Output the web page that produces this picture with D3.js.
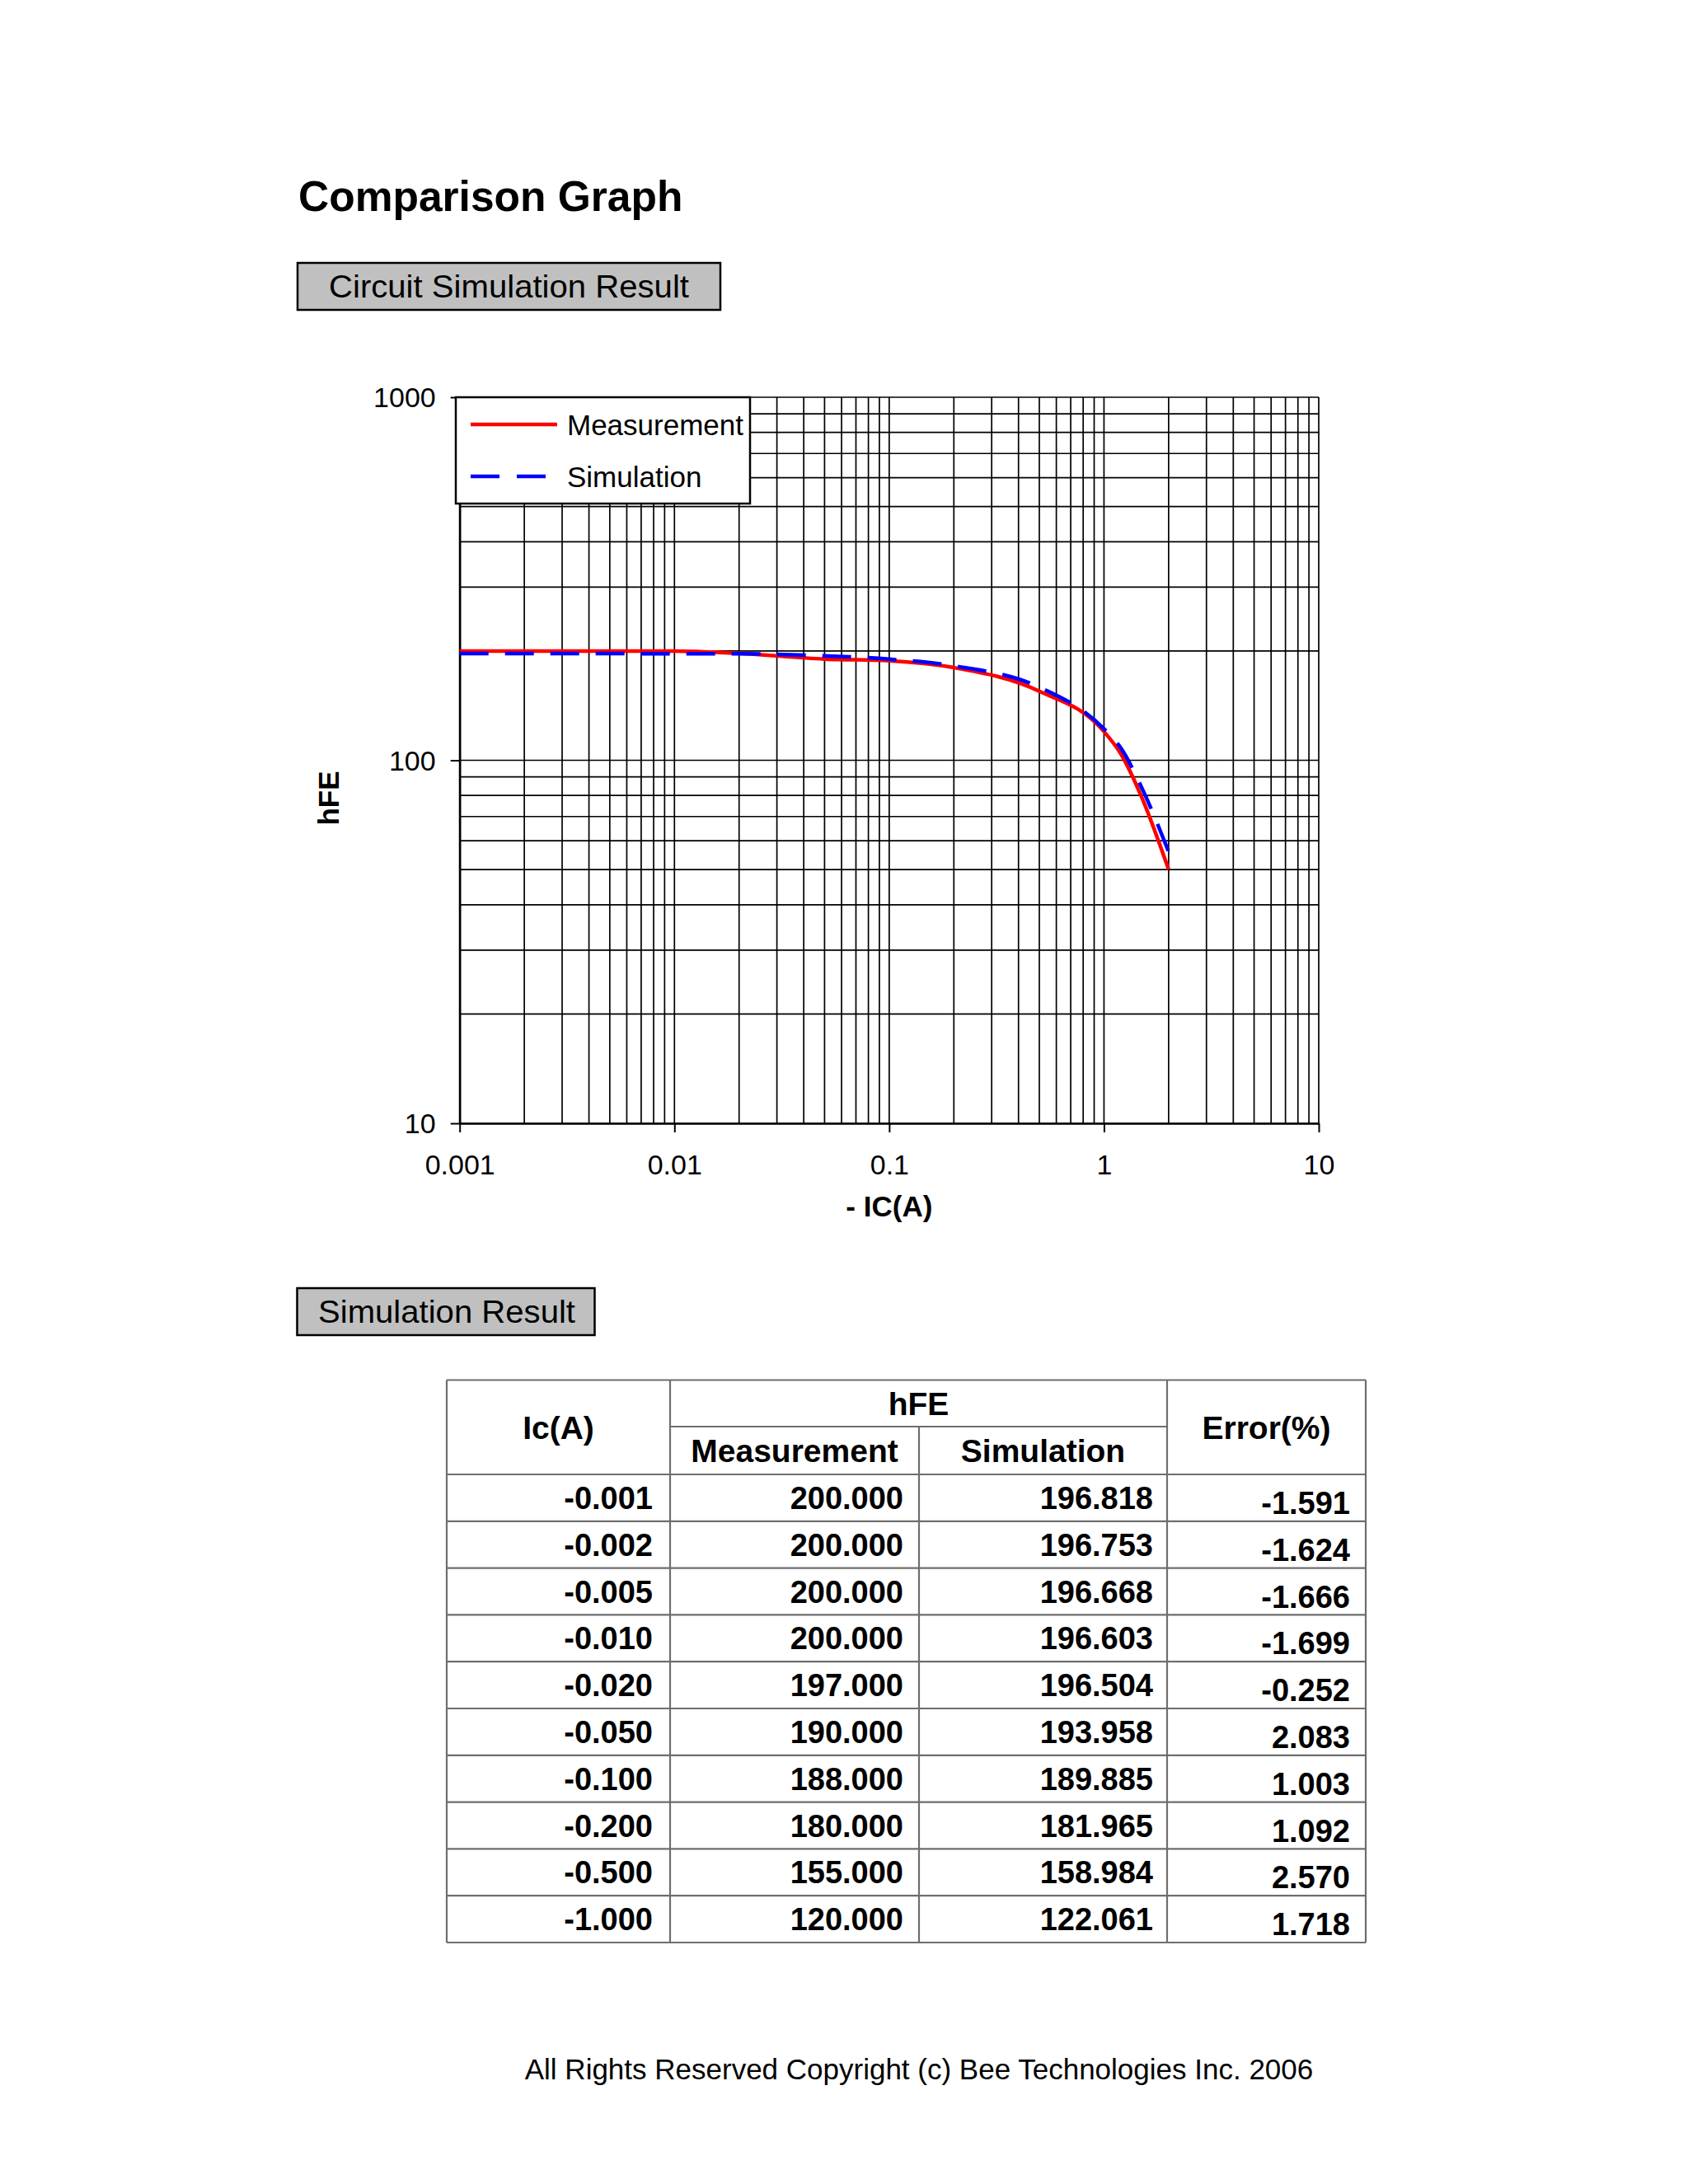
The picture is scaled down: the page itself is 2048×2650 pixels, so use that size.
<!DOCTYPE html>
<html>
<head>
<meta charset="utf-8">
<script src="https://cdn.jsdelivr.net/npm/d3@7"></script>
<style>
  html, body { margin: 0; padding: 0; background: #fff; }
  svg { display: block; }
  text { font-family: "Liberation Sans", Arial, sans-serif; }
</style>
</head>
<body>
<svg id="chart" width="2048" height="2650"></svg>
<script>
// ---------------- DATA ----------------
const icValues = [0.001, 0.002, 0.005, 0.01, 0.02, 0.05, 0.1, 0.2, 0.5, 1.0];
const icLabels = ["-0.001", "-0.002", "-0.005", "-0.010", "-0.020", "-0.050", "-0.100", "-0.200", "-0.500", "-1.000"];
const hfeMeasurement = [200, 200, 200, 200, 197, 190, 188, 180, 155, 120];
const hfeSimulation = [196.818, 196.753, 196.668, 196.603, 196.504, 193.958, 189.885, 181.965, 158.984, 122.061];
const errorPercent = [-1.591, -1.624, -1.666, -1.699, -0.252, 2.083, 1.003, 1.092, 2.570, 1.718];
// curve continuation beyond the table
const icExtra = [1.2, 1.5, 2.0];
const measExtra = [104, 79, 50];
const simExtra = [108, 84, 56];
const xTickLabels = ["0.001", "0.01", "0.1", "1", "10"];
const yTickLabels = ["10", "100", "1000"];
const seriesNames = ["Measurement", "Simulation"];

// ---------------- SETUP ----------------
const svg = d3.select("#chart");
const FONT = '"Liberation Sans", Arial, sans-serif';

// Title
svg.append("text").attr("x", 362).attr("y", 256)
  .attr("font-size", 51.5).attr("font-weight", "bold").text("Comparison Graph");

// Section box helper
function sectionBox(x, y, w, h, label, tx, ty, tlen) {
  svg.append("rect").attr("x", x).attr("y", y).attr("width", w).attr("height", h)
    .attr("fill", "#c0c0c0").attr("stroke", "#000").attr("stroke-width", 2.5);
  svg.append("text").attr("x", tx).attr("y", ty).attr("font-size", 38.5)
    .attr("textLength", tlen).attr("lengthAdjust", "spacingAndGlyphs").text(label);
}
sectionBox(361, 319, 513, 57, "Circuit Simulation Result", 399, 361, 437);

// ---------------- CHART ----------------
const plot = { left: 557.7, right: 1600, top: 482, bottom: 1363 };
const x = d3.scaleLog().domain([0.001, 10]).range([plot.left, plot.right]);
const y = d3.scaleLog().domain([10, 1000]).range([plot.bottom, plot.top]);

const g = svg.append("g");

// gridlines
g.selectAll("line.vgrid").data(x.ticks()).enter().append("line")
  .attr("x1", d => x(d)).attr("x2", d => x(d))
  .attr("y1", plot.top).attr("y2", plot.bottom)
  .attr("stroke", "#000").attr("stroke-width", 1.7);
g.selectAll("line.hgrid").data(y.ticks()).enter().append("line")
  .attr("x1", plot.left).attr("x2", plot.right)
  .attr("y1", d => y(d)).attr("y2", d => y(d))
  .attr("stroke", "#000").attr("stroke-width", 1.7);

// axes
const majorX = xTickLabels.map(Number);
const majorY = yTickLabels.map(Number);
const xAxis = d3.axisBottom(x).tickValues(majorX).tickSize(11).tickSizeOuter(0)
  .tickFormat((d, i) => xTickLabels[i]).tickPadding(27);
const yAxis = d3.axisLeft(y).tickValues(majorY).tickSize(11).tickSizeOuter(0)
  .tickFormat((d, i) => yTickLabels[i]).tickPadding(18);

const gx = g.append("g").attr("transform", `translate(0,${plot.bottom})`).call(xAxis);
const gy = g.append("g").attr("transform", `translate(${plot.left},0)`).call(yAxis);
[gx, gy].forEach(a => {
  a.select(".domain").attr("stroke", "#000").attr("stroke-width", 2.6);
  a.selectAll(".tick line").attr("stroke", "#000").attr("stroke-width", 2);
  a.selectAll(".tick text").attr("font-family", FONT).attr("font-size", 34).attr("fill", "#000");
});
gx.selectAll(".tick text").attr("dy", "0.71em");
gy.selectAll(".tick text").attr("dy", "0.34em");

// axis titles
svg.append("text").attr("x", (plot.left + plot.right) / 2).attr("y", 1476)
  .attr("text-anchor", "middle").attr("font-size", 35).attr("font-weight", "bold").text("- IC(A)");
svg.append("text").attr("transform", `translate(411,${(plot.top + plot.bottom) / 2 + 46}) rotate(-90)`)
  .attr("text-anchor", "middle").attr("font-size", 35).attr("font-weight", "bold").text("hFE");

// series
const measData = icValues.map((d, i) => [d, hfeMeasurement[i]])
  .concat(icExtra.map((d, i) => [d, measExtra[i]]));
const simData = icValues.map((d, i) => [d, hfeSimulation[i]])
  .concat(icExtra.map((d, i) => [d, simExtra[i]]));
const line = d3.line().x(d => x(d[0])).y(d => y(d[1])).curve(d3.curveMonotoneX);

g.append("path").datum(measData).attr("d", line)
  .attr("fill", "none").attr("stroke", "#ff0000").attr("stroke-width", 4.5);
g.append("path").datum(simData).attr("d", line)
  .attr("fill", "none").attr("stroke", "#0000ff").attr("stroke-width", 4.5)
  .attr("stroke-dasharray", "35,20");

// legend
const lg = svg.append("g");
lg.append("rect").attr("x", 553).attr("y", 482).attr("width", 357).attr("height", 129)
  .attr("fill", "#fff").attr("stroke", "#000").attr("stroke-width", 2.5);
const legendItems = [
  { name: seriesNames[0], color: "#ff0000", dash: null, y: 515 },
  { name: seriesNames[1], color: "#0000ff", dash: "35,21", y: 578 }
];
legendItems.forEach(it => {
  lg.append("line").attr("x1", 571).attr("x2", 676).attr("y1", it.y).attr("y2", it.y)
    .attr("stroke", it.color).attr("stroke-width", 4.5)
    .attr("stroke-dasharray", it.dash);
  lg.append("text").attr("x", 688).attr("y", it.y + 13).attr("font-size", 35).text(it.name);
});

// ---------------- TABLE ----------------
sectionBox(360.5, 1563, 361, 57, "Simulation Result", 386, 1605, 312);

const colX = [542, 813, 1115, 1416, 1657];
const tTop = 1674.5, tMid = 1731, tHead = 1789, tBottom = 2357;
const rowH = (tBottom - tHead) / icValues.length;
const tg = svg.append("g");
const BORDER = "#6e6e6e";

function hline(x1, x2, yy) {
  tg.append("line").attr("x1", x1).attr("x2", x2).attr("y1", yy).attr("y2", yy)
    .attr("stroke", BORDER).attr("stroke-width", 2.2);
}
function vline(xx, y1, y2) {
  tg.append("line").attr("x1", xx).attr("x2", xx).attr("y1", y1).attr("y2", y2)
    .attr("stroke", BORDER).attr("stroke-width", 2.2);
}
hline(colX[0], colX[4], tTop);
hline(colX[1], colX[3], tMid);
d3.range(icValues.length + 1).forEach(i => hline(colX[0], colX[4], tHead + i * rowH));
vline(colX[0], tTop, tBottom);
vline(colX[1], tTop, tBottom);
vline(colX[2], tMid, tBottom);
vline(colX[3], tTop, tBottom);
vline(colX[4], tTop, tBottom);

function headText(xx, yy, s) {
  tg.append("text").attr("x", xx).attr("y", yy).attr("text-anchor", "middle")
    .attr("font-size", 39).attr("font-weight", "bold").text(s);
}
headText((colX[0] + colX[1]) / 2, 1746, "Ic(A)");
headText((colX[1] + colX[3]) / 2, 1717, "hFE");
headText((colX[1] + colX[2]) / 2, 1774, "Measurement");
headText((colX[2] + colX[3]) / 2, 1774, "Simulation");
headText((colX[3] + colX[4]) / 2, 1746, "Error(%)");

const cols = [
  icLabels,
  hfeMeasurement.map(v => v.toFixed(3)),
  hfeSimulation.map(v => v.toFixed(3)),
  errorPercent.map(v => v.toFixed(3))
];
const pad = [21, 19, 17, 19];
const dyCol = [0, 0, 0, 6];
cols.forEach((vals, c) => {
  tg.selectAll(null).data(vals).enter().append("text")
    .attr("x", colX[c + 1] - pad[c])
    .attr("y", (d, i) => tHead + i * rowH + rowH / 2 + 13.5 + dyCol[c])
    .attr("text-anchor", "end").attr("font-size", 38).attr("font-weight", "bold")
    .text(d => d);
});

// footer
svg.append("text").attr("x", 1115).attr("y", 2523).attr("text-anchor", "middle")
  .attr("font-size", 35).text("All Rights Reserved Copyright (c) Bee Technologies Inc. 2006");
</script>
</body>
</html>
